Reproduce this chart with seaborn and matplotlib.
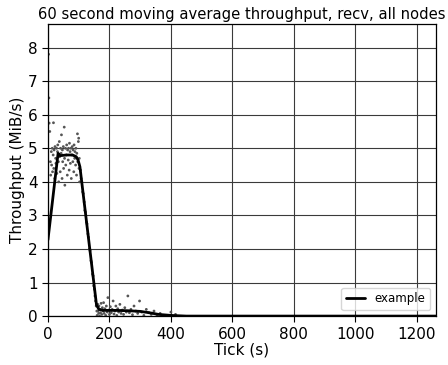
import matplotlib
matplotlib.use("Agg")
import matplotlib.pyplot as plt
import seaborn as sns
import pandas as pd

# 60 s moving average
ma_tick = [0, 33, 40, 60, 80, 92, 98, 104, 158, 166, 180, 220, 260, 300,
           330, 360, 400, 450, 1262]
ma_rate = [2.27, 4.85, 4.78, 4.80, 4.80, 4.75, 4.65, 4.45, 0.33, 0.20,
           0.17, 0.17, 0.16, 0.14, 0.10, 0.05, 0.02, 0.0, 0.0]

# raw per-tick samples (approximate)
# plateau phase
plateau_tick = [2, 3, 4, 6, 8, 9, 11, 12, 14, 15,
                17, 18, 19, 20, 22, 23, 25, 26, 28, 29,
                31, 32, 34, 35, 37, 38, 40, 41, 43, 44,
                46, 47, 48, 50, 51, 53, 54, 55, 57, 58,
                60, 61, 63, 64, 66, 67, 69, 70, 72, 73,
                75, 76, 78, 79, 81, 82, 84, 85, 87, 88,
                90, 91, 93, 94, 96, 97, 99, 100, 101, 102,
                103]
plateau_rate = [7.8, 6.5, 5.75, 5.5, 4.6, 4.2, 4.9, 4.5, 5.0, 4.3,
                4.8, 5.76, 4.4, 4.95, 4.1, 5.05, 4.7, 4.55, 5.0, 4.25,
                4.9, 5.1, 4.6, 4.0, 5.2, 4.75, 4.3, 5.0, 4.85, 5.4,
                4.1, 4.95, 4.6, 5.05, 4.4, 5.63, 4.7, 3.9, 5.0, 4.5,
                4.8, 5.1, 4.2, 4.95, 4.65, 5.0, 4.35, 5.15, 4.9, 4.55,
                5.0, 4.1, 4.8, 5.05, 4.6, 4.95, 4.3, 5.1, 4.7, 4.9,
                4.5, 5.0, 4.2, 4.85, 5.43, 4.6, 5.2, 5.3, 4.4, 4.7,
                4.0]
# ramp down
drop_tick = [106, 108, 110, 113, 115, 118, 120, 122, 125, 127,
             130, 132, 135, 137, 140, 142, 145, 147, 149, 151,
             153, 155, 157, 159]
drop_rate = [4.35, 4.1, 4.0, 3.7, 3.65, 3.4, 3.15, 3.1, 2.8, 2.75,
             2.45, 2.35, 2.0, 1.95, 1.65, 1.6, 1.25, 1.2, 0.9, 0.8,
             0.6, 0.45, 0.3, 0.15]
# tail
tail_tick = [160, 162, 163, 165, 166, 168, 170, 171, 173, 175,
             177, 179, 181, 183, 185, 188, 190, 193, 195, 198,
             200, 203, 206, 209, 212, 215, 218, 221, 224, 227,
             230, 234, 238, 242, 246, 250, 255, 260, 265, 270,
             275, 280, 286, 292, 298, 305, 312, 320, 328, 336,
             345, 355, 365, 380, 400, 415]
tail_rate = [0.02, 0.35, 0.15, 0.08, 0.3, 0.0, 0.2, 0.1, 0.38, 0.05,
             0.25, 0.15, 0.4, 0.08, 0.22, 0.02, 0.3, 0.12, 0.55, 0.18,
             0.05, 0.28, 0.1, 0.2, 0.45, 0.06, 0.15, 0.3, 0.02, 0.22,
             0.12, 0.35, 0.08, 0.18, 0.05, 0.25, 0.12, 0.6, 0.1, 0.2,
             0.04, 0.3, 0.15, 0.08, 0.45, 0.12, 0.02, 0.2, 0.1, 0.05,
             0.15, 0.03, 0.08, 0.02, 0.12, 0.05]

ma = pd.DataFrame({"tick": ma_tick, "rate": ma_rate})
raw = pd.DataFrame({"tick": plateau_tick + drop_tick + tail_tick,
                    "rate": plateau_rate + drop_rate + tail_rate})

sns.set_style("ticks")
plt.rcParams["font.family"] = ["DejaVu Sans"]
plt.rcParams["font.size"] = 11
for key in ("text.color", "axes.labelcolor", "xtick.color", "ytick.color"):
    plt.rcParams[key] = "black"

fig, ax = plt.subplots(figsize=(4.48, 3.65), dpi=100)
fig.subplots_adjust(left=0.107, right=0.973, top=0.934, bottom=0.134)

sns.scatterplot(data=raw, x="tick", y="rate", ax=ax, s=4, color="#555555",
                edgecolor="none", legend=False)
sns.lineplot(data=ma, x="tick", y="rate", ax=ax, color="black", lw=2,
             label="example")

ax.set_xlim(0, 1262)
ax.set_ylim(0, 8.7)
ax.set_xticks([0, 200, 400, 600, 800, 1000, 1200])
ax.set_yticks(range(0, 9))
ax.grid(True, color="#3a3a3a", lw=0.8)
ax.set_axisbelow(True)
ax.tick_params(labelsize=11, length=4, color="black")
for sp in ax.spines.values():
    sp.set_color("black")
    sp.set_linewidth(0.9)

ax.set_title("60 second moving average throughput, recv, all nodes",
             fontsize=10.6, pad=4)
ax.set_xlabel("Tick (s)", fontsize=11, labelpad=1)
ax.set_ylabel("Throughput (MiB/s)", fontsize=11, labelpad=2)
ax.legend(loc="lower right", fontsize=8.5, handlelength=1.6)

fig.savefig("out.png", dpi=100)
